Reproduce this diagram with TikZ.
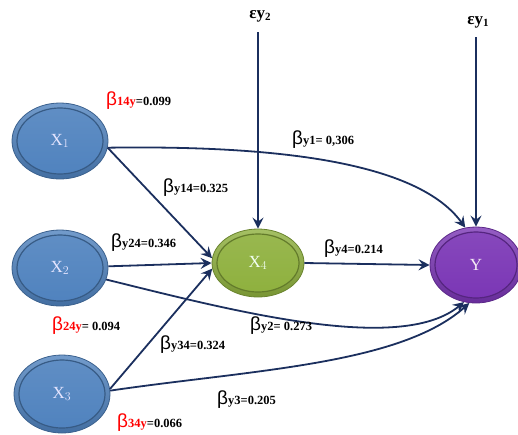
\documentclass[tikz,border=0pt]{standalone}
\usepackage{fontspec}
\setmainfont{Liberation Serif}
\newfontfamily\betafont{Liberation Sans}
\usetikzlibrary{shapes.geometric,arrows.meta}
\definecolor{arr}{HTML}{1B2F5E}
\definecolor{bblue}{HTML}{4F82BE}
\definecolor{bgreen}{HTML}{8EB03D}
\definecolor{bpurple}{HTML}{7A35B5}
\newcommand\betalab[3]{{\color{#1}\betafont\fontsize{19}{19}\selectfont β}{\bfseries\fontsize{12.5}{12.5}\selectfont\color{#1}#2\color{black}#3}}
\newcommand\epslab[1]{{\bfseries\fontsize{17}{17}\selectfont εy\raisebox{-2.5pt}{\fontsize{11}{11}\selectfont #1}}}
\tikzset{
  blob/.style n args={4}{ellipse, minimum width=#1, minimum height=#2, inner sep=0pt,
    draw=#3!75!black, line width=0.8pt, top color=#3!80!white, bottom color=#3!85!black,
    text=#4, font=\fontsize{17}{17}\selectfont,
    path picture={\draw[#3!70!black, line width=1.2pt, top color=#3!90!white, bottom color=#3]
      (path picture bounding box.center) ellipse ({#1/2-5pt} and {#2/2-5pt});}},
  arrow/.style={arr, line width=1.8pt, -{Stealth[length=11pt,width=11pt,inset=4pt]}},
  lab/.style={anchor=west, inner sep=0pt},
}
\begin{document}
\begin{tikzpicture}[x=1pt,y=-1pt]
\useasboundingbox (0,0) rectangle (518,434);
% nodes
\node[blob={96pt}{76pt}{bblue}{blue!10!white}] (X1) at (60,141) {$\mathrm{X}_1$};
\node[blob={96pt}{76pt}{bblue}{blue!10!white}] (X2) at (60,268) {$\mathrm{X}_2$};
\node[blob={96pt}{78pt}{bblue}{blue!10!white}] (X3) at (62,394) {$\mathrm{X}_3$};
\node[blob={92pt}{68pt}{bgreen}{green!5!white}] (X4) at (258,263) {$\mathrm{X}_4$};
\node[blob={92pt}{76pt}{bpurple}{violet!8!white}] (Y) at (476,265) {Y};
% error terms
\node (e2) at (260,16) {\epslab{2}};
\node (e1) at (478,22) {\epslab{1}};
\coordinate (e2s) at (258,32);
\coordinate (e1s) at (476,37);
% connectors
\draw[arrow] (e2s) -- (X4.north);
\draw[arrow] (e1s) -- (Y.north);
\draw[arrow] (X1.-8) -- (X4.174);
\draw[arrow] (X2.2) -- (X4.180);
\draw[arrow] (X3.6) -- (X4.187);
\draw[arrow] (X4.east) -- (Y.west);
\draw[arrow] (X1.-8) .. controls (290,145) and (420,165) .. (Y.106);
\draw[arrow] (X2.-14) .. controls (230,310) and (400,355) .. (Y.-108);
\draw[arrow] (X3.4) .. controls (250,370) and (400,365) .. (Y.-100);
% labels
\node[lab] (l1) at (106,101) {\betalab{red}{14y}{=0.099}};
\node[lab] (l2) at (292,140) {\betalab{black}{y1}{= 0,306}};
\node[lab] (l3) at (163,188) {\betalab{black}{y14}{=0.325}};
\node[lab] (l4) at (111,243) {\betalab{black}{y24}{=0.346}};
\node[lab] (l5) at (324,249) {\betalab{black}{y4}{=0.214}};
\node[lab] (l6) at (52,326) {\betalab{red}{24y}{= 0.094}};
\node[lab] (l7) at (160,345) {\betalab{black}{y34}{ =0.324}};
\node[lab] (l8) at (250,326) {\betalab{black}{y2}{= 0.273}};
\node[lab] (l9) at (217,400) {\betalab{black}{y3}{=0.205}};
\node[lab] (l10) at (117,423) {\betalab{red}{34y}{=0.066}};
\end{tikzpicture}
\end{document}
